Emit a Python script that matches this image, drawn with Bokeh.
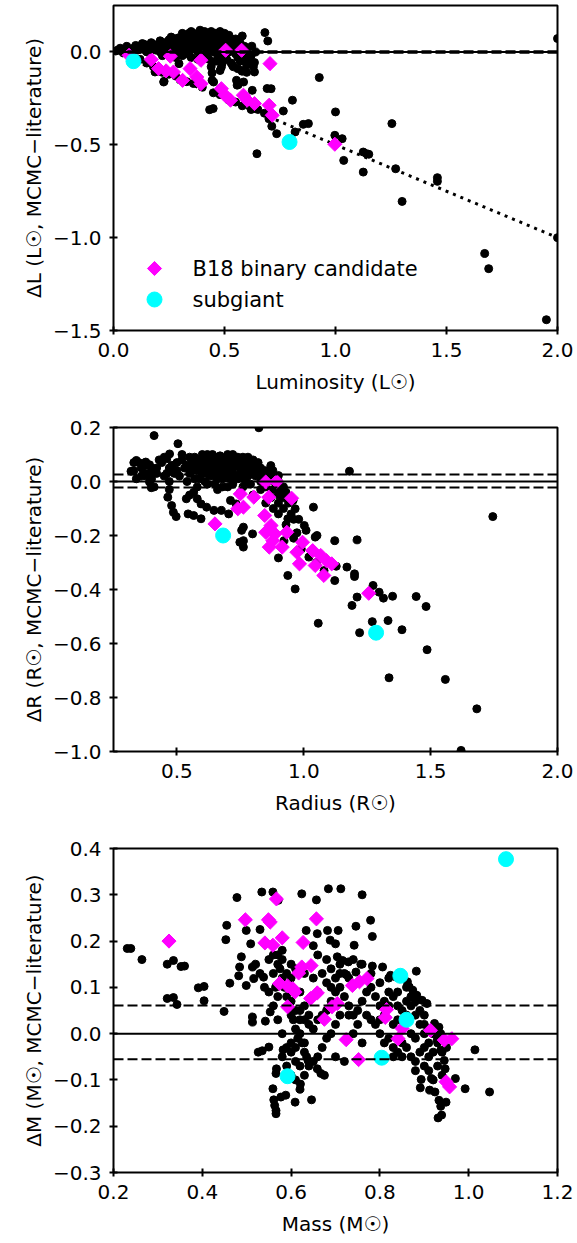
import math
from bokeh.plotting import figure
from bokeh.layouts import column
from bokeh.models import (Range1d, FixedTicker, CustomJSTickFormatter, Span, Label)
from bokeh.embed import file_html
from bokeh.resources import INLINE

FONT = "DejaVu Sans"

# ---------------- Panel 1: luminosity ----------------
lum_stars = [
    (2.0, 0.072), (2.0, -1.0), (1.95, -1.442), (1.672, -1.085), (1.69, -1.167),
    (1.30, -0.805), (1.254, -0.386), (1.271, -0.629), (1.459, -0.677), (1.459, -0.697),
    (1.125, -0.647), (1.125, -0.539), (1.14, -0.548), (1.15, -0.551), (1.037, -0.584),
    (1.03, -0.467), (0.997, -0.449), (1.0, -0.323), (0.927, -0.138), (0.878, -0.386),
    (0.855, -0.39), (0.818, -0.431), (0.806, -0.26), (0.765, -0.318), (0.735, -0.44),
    (0.713, -0.4), (0.71, -0.198), (0.682, 0.104), (0.695, 0.059), (0.623, 0.031),
    (0.635, -0.057), (0.635, -0.108), (0.625, -0.207), (0.626, -0.305), (0.646, -0.548),
    (0.58, 0.086), (0.579, -0.104), (0.562, -0.176), (0.554, -0.153), (0.444, -0.153),
    (0.433, -0.311), (0.449, -0.305), (0.228, -0.158), (0.187, -0.108), (0.295, -0.063),
    (0.536, -0.072), (0.486, -0.081), (0.47, -0.036), (0.519, 0.009), (0.692, -0.197),
    (0.586, -0.162), (0.557, -0.179), (0.444, -0.113), (0.451, -0.162), (0.226, -0.162),
    (0.01, 0.005), (0.02, 0.01), (0.03, 0.02), (0.04, 0.0), (0.05, 0.01), (0.06, 0.03),
    (0.07, 0.015), (0.08, 0.0), (0.09, 0.02), (0.10, 0.035), (0.11, 0.01), (0.12, 0.03),
    (0.13, 0.045), (0.14, 0.02), (0.15, 0.0), (0.16, 0.035), (0.17, 0.05), (0.18, 0.025),
    (0.19, 0.01), (0.20, 0.04), (0.21, 0.06), (0.22, 0.03), (0.23, 0.05), (0.24, 0.02),
    (0.25, 0.065), (0.26, 0.04), (0.27, 0.01), (0.28, 0.055), (0.29, 0.075), (0.30, 0.03),
    (0.31, 0.1), (0.32, 0.06), (0.33, 0.085), (0.34, 0.04), (0.35, 0.11), (0.35, 0.02),
    (0.36, 0.07), (0.37, 0.095), (0.38, 0.05), (0.39, 0.117), (0.40, 0.03), (0.41, 0.08),
    (0.42, 0.06), (0.43, 0.1), (0.44, 0.11), (0.45, 0.04), (0.46, 0.07), (0.47, 0.09),
    (0.48, 0.02), (0.49, 0.05), (0.50, 0.075), (0.51, 0.0), (0.52, 0.06), (0.53, 0.03),
    (0.54, 0.045), (0.55, -0.01), (0.56, 0.02), (0.57, 0.05), (0.58, 0.0), (0.59, -0.03),
    (0.60, 0.01), (0.62, -0.02), (0.64, 0.0), (0.22, -0.02), (0.28, -0.03), (0.33, -0.01),
    (0.38, -0.04), (0.42, -0.02), (0.46, -0.05), (0.50, -0.03), (0.53, -0.06), (0.57, -0.05),
    (0.60, -0.07), (0.44, -0.08), (0.48, -0.1), (0.12, -0.04), (0.15, -0.06), (0.18, -0.08),
    (0.20, -0.1), (0.22, -0.11), (0.25, -0.12), (0.28, -0.13), (0.30, -0.15), (0.33, -0.16),
    (0.36, -0.17), (0.40, -0.19), (0.45, -0.22), (0.48, -0.23), (0.52, -0.26), (0.55, -0.27),
    (0.58, -0.29), (0.62, -0.31), (0.65, -0.31), (0.68, -0.33), (0.70, -0.36),
    (0.26, 0.08), (0.27, 0.05), (0.28, 0.02), (0.29, 0.04), (0.30, 0.07), (0.30, 0.0),
    (0.31, 0.05), (0.32, 0.09), (0.32, 0.02), (0.33, 0.06), (0.34, 0.1), (0.34, 0.0),
    (0.35, 0.07), (0.36, 0.04), (0.36, 0.1), (0.37, 0.02), (0.37, 0.06), (0.38, 0.08),
    (0.38, 0.0), (0.39, 0.05), (0.40, 0.09), (0.40, 0.06), (0.41, 0.03), (0.41, 0.11),
    (0.42, 0.0), (0.42, 0.09), (0.43, 0.05), (0.43, 0.02), (0.44, 0.07), (0.45, 0.1),
    (0.45, 0.0), (0.46, 0.04), (0.47, 0.06), (0.47, -0.02), (0.48, 0.08), (0.49, 0.02),
    (0.50, 0.05), (0.50, 0.1), (0.51, 0.03), (0.52, 0.0), (0.53, 0.07), (0.54, 0.02),
    (0.55, 0.05), (0.56, -0.03), (0.57, 0.01), (0.58, -0.02), (0.59, 0.03), (0.60, -0.04),
    (0.61, -0.05), (0.62, -0.06), (0.55, 0.07), (0.52, 0.09), (0.48, 0.11), (0.46, 0.1),
    (0.20, 0.02), (0.21, 0.0), (0.23, 0.03), (0.24, 0.05), (0.18, 0.04), (0.16, 0.015),
    (0.14, 0.04), (0.12, 0.015), (0.10, 0.02), (0.25, 0.0), (0.27, 0.03), (0.29, 0.01),
    (0.31, -0.02), (0.35, -0.03), (0.39, -0.02), (0.43, -0.04), (0.49, -0.06), (0.51, -0.04),
    (0.54, -0.08), (0.56, -0.09), (0.58, -0.1), (0.63, -0.08), (0.60, -0.11),
]
lum_binaries = [
    (0.07, -0.018), (0.17, -0.041), (0.256, -0.023), (0.394, -0.045), (0.505, 0.009),
    (0.577, 0.009), (0.705, -0.063), (0.203, -0.09), (0.237, -0.102), (0.27, -0.108),
    (0.311, -0.153), (0.345, -0.09), (0.375, -0.135), (0.394, -0.171), (0.486, -0.198),
    (0.502, -0.233), (0.527, -0.26), (0.585, -0.233), (0.602, -0.26), (0.635, -0.278),
    (0.701, -0.287), (0.715, -0.341), (0.997, -0.497),
]
lum_subgiants = [(0.09, -0.05), (0.793, -0.485)]
lum_trend_x = [0.0, 2.0]
lum_trend_y = [0.0, -1.0]
lum_xticks = [0.0, 0.5, 1.0, 1.5, 2.0]
lum_yticks = [-1.5, -1.0, -0.5, 0.0]
lum_hlines = [0.0]
lum_dashed = [0.004, -0.004]
legend_labels = ["B18 binary candidate", "subgiant"]

# ---------------- Panel 2: radius ----------------
rad_stars = [
    (0.41, 0.17), (0.504, 0.14), (0.823, 0.199), (1.18, 0.038), (1.745, -0.13),
    (1.62, -0.996), (1.682, -0.842), (1.558, -0.733), (1.336, -0.727), (1.486, -0.623),
    (1.482, -0.463), (1.443, -0.426), (1.35, -0.425), (1.314, -0.432), (1.297, -0.41),
    (1.273, -0.385), (1.27, -0.519), (1.332, -0.515), (1.387, -0.549), (1.22, -0.56),
    (1.21, -0.428), (1.19, -0.459), (1.21, -0.216), (1.122, -0.219), (1.122, -0.367),
    (1.128, -0.314), (1.17, -0.317), (1.2, -0.342), (1.2, -0.352), (1.057, -0.525),
    (1.038, -0.095), (1.045, -0.206), (1.052, -0.2), (1.009, -0.181), (1.002, -0.163),
    (0.973, -0.19), (0.966, -0.398), (0.937, -0.348), (0.9, -0.283), (0.922, -0.219),
    (0.937, -0.138), (0.966, -0.101), (0.958, -0.07), (0.922, -0.046), (0.878, 0.041),
    (0.87, 0.059), (0.9, 0.022), (0.798, -0.194), (0.762, -0.219), (0.762, -0.243),
    (0.748, -0.225), (0.755, -0.181), (0.762, -0.169), (0.733, -0.083), (0.711, -0.07),
    (0.704, -0.12), (0.675, -0.107), (0.646, -0.107), (0.617, -0.095), (0.595, -0.138),
    (0.566, -0.126), (0.544, -0.12), (0.497, -0.13), (0.486, -0.114), (0.479, -0.089),
    (0.464, -0.058), (0.537, -0.064), (0.566, -0.04), (0.58, -0.064), (0.595, -0.083),
    (0.471, 0.102), (0.46, 0.084), (0.34, 0.078), (0.319, 0.038), (0.377, 0.072),
    (0.392, 0.062), (0.399, -0.023), (0.392, -0.002), (0.37, 0.031),
    (0.38, 0.06), (0.40, 0.01), (0.42, 0.05), (0.44, 0.07), (0.46, 0.03), (0.47, 0.0),
    (0.48, 0.06), (0.50, 0.04), (0.51, 0.02), (0.52, 0.08), (0.53, 0.05), (0.54, 0.0),
    (0.55, 0.03), (0.56, 0.07), (0.57, 0.09), (0.58, 0.04), (0.59, 0.01), (0.60, 0.06),
    (0.61, 0.08), (0.62, 0.03), (0.63, 0.05), (0.64, 0.09), (0.65, 0.02), (0.65, 0.06),
    (0.66, 0.04), (0.67, 0.08), (0.68, 0.01), (0.68, 0.05), (0.69, 0.07), (0.70, 0.03),
    (0.70, 0.1), (0.71, 0.05), (0.72, 0.08), (0.73, 0.02), (0.73, 0.06), (0.74, 0.09),
    (0.75, 0.04), (0.76, 0.07), (0.77, 0.0), (0.77, 0.05), (0.78, 0.08), (0.79, 0.03),
    (0.80, 0.06), (0.81, 0.02), (0.82, 0.05), (0.83, 0.0), (0.84, 0.04), (0.85, -0.02),
    (0.86, 0.02), (0.88, -0.03), (0.90, -0.05), (0.92, -0.06), (0.94, -0.08), (0.62, -0.01),
    (0.66, -0.03), (0.70, -0.02), (0.58, -0.02), (0.55, -0.05), (0.75, -0.04), (0.80, -0.05),
    (0.85, -0.08), (0.88, -0.1), (0.6, 0.1), (0.64, 0.1), (0.67, 0.095), (0.72, 0.1),
    (0.78, 0.09), (0.52, 0.1), (0.45, 0.09), (0.35, 0.07), (0.33, 0.04), (0.36, 0.02),
    (0.39, 0.03), (0.41, -0.02), (0.47, -0.03),
    (0.54, 0.06), (0.55, 0.09), (0.56, 0.04), (0.57, 0.01), (0.57, 0.06), (0.58, 0.08),
    (0.59, 0.05), (0.60, 0.03), (0.60, 0.08), (0.61, 0.0), (0.61, 0.05), (0.62, 0.07),
    (0.62, 0.1), (0.63, 0.02), (0.63, 0.08), (0.64, 0.04), (0.64, 0.06), (0.65, 0.09),
    (0.66, 0.01), (0.66, 0.07), (0.67, 0.03), (0.67, 0.05), (0.68, 0.08), (0.69, 0.02),
    (0.69, 0.04), (0.70, 0.06), (0.71, 0.08), (0.71, 0.01), (0.72, 0.03), (0.72, 0.05),
    (0.73, 0.09), (0.74, 0.01), (0.74, 0.06), (0.75, 0.08), (0.75, 0.02), (0.76, 0.04),
    (0.76, 0.09), (0.77, 0.07), (0.78, 0.02), (0.78, 0.05), (0.79, 0.07), (0.80, 0.04),
    (0.80, 0.08), (0.81, 0.05), (0.82, 0.03), (0.82, 0.07), (0.83, 0.05), (0.84, 0.02),
    (0.85, 0.04), (0.86, 0.0), (0.87, 0.03), (0.88, 0.01), (0.89, -0.02), (0.90, 0.0),
    (0.91, -0.03), (0.92, -0.02), (0.93, -0.04), (0.65, -0.01), (0.68, -0.02), (0.72, -0.01),
    (0.76, -0.02), (0.79, -0.01), (0.83, -0.03), (0.87, -0.06), (0.90, -0.08), (0.92, -0.1),
    (0.95, -0.12), (0.96, -0.14), (0.50, 0.07), (0.49, 0.03), (0.47, 0.05), (0.45, 0.02),
    (0.43, 0.08), (0.42, 0.03), (0.40, 0.05), (0.38, 0.02), (0.36, 0.05), (0.34, 0.01),
    (0.33, 0.07), (0.93, -0.16), (0.96, -0.21), (0.99, -0.25), (1.02, -0.28), (1.05, -0.3),
    (1.08, -0.33), (0.90, -0.12), (0.98, -0.14),
]
rad_binaries = [
    (0.65, -0.157), (0.75, -0.046), (0.74, -0.101), (0.762, -0.095), (0.803, -0.058),
    (0.85, -0.002), (0.893, 0.0), (0.862, -0.058), (0.952, -0.062), (0.846, -0.126),
    (0.871, -0.163), (0.85, -0.188), (0.886, -0.194), (0.864, -0.243), (0.915, -0.243),
    (0.933, -0.188), (0.973, -0.262), (0.995, -0.225), (0.983, -0.305), (1.035, -0.256),
    (1.045, -0.311), (1.067, -0.274), (1.089, -0.293), (1.079, -0.348), (1.11, -0.305),
    (1.256, -0.414), (0.878, -0.219),
]
rad_subgiants = [(0.682, -0.2), (1.285, -0.56)]
rad_xticks = [0.5, 1.0, 1.5, 2.0]
rad_yticks = [-1.0, -0.8, -0.6, -0.4, -0.2, 0.0, 0.2]
rad_hlines = [0.0]
rad_dashed = [0.026, -0.022]

# ---------------- Panel 3: mass ----------------
mass_stars = [
    (0.231, 0.184), (0.239, 0.184), (0.264, 0.16), (0.321, 0.15), (0.335, 0.158),
    (0.352, 0.145), (0.36, 0.146), (0.321, 0.076), (0.335, 0.078), (0.343, 0.063),
    (0.391, 0.099), (0.404, 0.102), (0.404, 0.071), (0.449, 0.048), (0.462, 0.109),
    (0.453, 0.203), (0.455, 0.234), (0.478, 0.294), (0.488, 0.166), (0.484, 0.144),
    (0.482, 0.125), (0.499, 0.104), (0.499, 0.223), (0.509, 0.194), (0.513, 0.144),
    (0.516, 0.119), (0.513, 0.036), (0.513, 0.025), (0.534, 0.306), (0.53, 0.225),
    (0.538, 0.122), (0.542, 0.027), (0.535, -0.037), (0.559, 0.306), (0.55, -0.029),
    (0.553, 0.047), (0.571, 0.288), (0.559, -0.119), (0.561, -0.143), (0.563, -0.155),
    (0.566, -0.166), (0.566, -0.173), (0.567, -0.076), (0.566, -0.086), (0.577, -0.137),
    (0.582, -0.035), (0.588, -0.133), (0.609, -0.148), (0.621, -0.109), (0.646, -0.143),
    (0.638, -0.058), (0.659, -0.076), (0.667, -0.086), (0.675, -0.09), (0.526, -0.04),
    (0.624, 0.302), (0.657, 0.289), (0.684, 0.313), (0.712, 0.313), (0.76, 0.3),
    (0.779, 0.245), (0.783, 0.21), (0.746, 0.232), (0.742, 0.191), (0.682, 0.223),
    (0.706, 0.223), (0.659, 0.216), (0.634, 0.223), (0.688, 0.202), (0.7, 0.194),
    (0.704, 0.166), (0.716, 0.158), (0.729, 0.155), (0.725, 0.127), (0.746, 0.133),
    (0.757, 0.15), (0.783, 0.146), (0.806, 0.144), (0.824, 0.126), (0.837, 0.122),
    (0.882, 0.135), (0.862, 0.112), (0.866, 0.101), (0.874, 0.094), (0.883, 0.083),
    (0.895, 0.072), (0.906, 0.065), (0.9, 0.04), (0.923, 0.022), (0.933, 0.014),
    (0.937, 0.0), (0.929, -0.014), (0.937, -0.036), (0.945, -0.058), (0.947, -0.076),
    (0.916, -0.097), (0.893, -0.099), (0.891, -0.117), (0.912, -0.122), (0.924, -0.126),
    (0.933, -0.144), (0.937, -0.157), (0.949, -0.148), (0.939, -0.176), (0.931, -0.182),
    (0.97, -0.097), (0.992, -0.119), (1.014, -0.035), (1.047, -0.126),
    (0.57, 0.17), (0.575, 0.14), (0.58, 0.12), (0.585, 0.1), (0.59, 0.08), (0.595, 0.06),
    (0.6, 0.04), (0.605, 0.03), (0.61, 0.01), (0.615, -0.01), (0.62, 0.0), (0.625, -0.02),
    (0.63, -0.04), (0.635, -0.05), (0.64, -0.06), (0.62, 0.05), (0.63, 0.03), (0.64, 0.02),
    (0.65, 0.01), (0.66, 0.03), (0.67, 0.04), (0.68, 0.05), (0.69, 0.07), (0.70, 0.09),
    (0.71, 0.1), (0.72, 0.08), (0.73, 0.06), (0.74, 0.04), (0.75, 0.05), (0.76, 0.07),
    (0.77, 0.09), (0.78, 0.1), (0.79, 0.08), (0.8, 0.06), (0.81, 0.07), (0.82, 0.09),
    (0.83, 0.08), (0.84, 0.06), (0.85, 0.05), (0.86, 0.07), (0.87, 0.06), (0.88, 0.04),
    (0.89, 0.02), (0.9, 0.0), (0.91, -0.02), (0.92, -0.04), (0.8, 0.0), (0.81, -0.02),
    (0.82, -0.01), (0.83, -0.03), (0.84, -0.04), (0.85, -0.02), (0.86, -0.03), (0.87, -0.05),
    (0.88, -0.06), (0.89, -0.04), (0.9, -0.07), (0.79, 0.02), (0.78, 0.03), (0.77, 0.04),
    (0.7, 0.02), (0.69, 0.0), (0.68, -0.01), (0.67, -0.03), (0.66, -0.05), (0.65, -0.06),
    (0.64, -0.07), (0.6, -0.04), (0.61, -0.06), (0.62, -0.07), (0.63, -0.09), (0.6, 0.12),
    (0.61, 0.14), (0.63, 0.13), (0.65, 0.12), (0.67, 0.13), (0.69, 0.14), (0.71, 0.13),
    (0.73, 0.12), (0.55, 0.16), (0.56, 0.13), (0.565, 0.1), (0.57, 0.08), (0.55, 0.09),
    (0.54, 0.1), (0.53, 0.13), (0.52, 0.15), (0.56, 0.06), (0.57, 0.03), (0.58, 0.0),
    (0.59, -0.03), (0.7, -0.05), (0.72, -0.06), (0.74, 0.0), (0.76, -0.02), (0.73, 0.04),
    (0.75, 0.02), (0.71, 0.04), (0.86, 0.1), (0.84, 0.09), (0.82, 0.12), (0.8, 0.11),
    (0.78, 0.13), (0.76, 0.15), (0.74, 0.16), (0.65, 0.19), (0.66, 0.17), (0.68, 0.16),
    (0.69, 0.1), (0.71, 0.15), (0.83, 0.02), (0.85, 0.01), (0.87, 0.0), (0.88, -0.01),
    (0.9, -0.03), (0.91, -0.05), (0.93, -0.07), (0.94, -0.09), (0.92, -0.1),
    (0.57, 0.15), (0.58, 0.16), (0.59, 0.13), (0.6, 0.15), (0.58, 0.18), (0.56, 0.17),
    (0.6, 0.07), (0.61, 0.05), (0.62, 0.03), (0.62, 0.09), (0.63, 0.06), (0.64, 0.04),
    (0.66, 0.09), (0.68, 0.11), (0.7, 0.12), (0.72, 0.13), (0.8, 0.03), (0.81, 0.04),
    (0.82, 0.06), (0.84, 0.03), (0.86, 0.04), (0.87, 0.08), (0.88, 0.07), (0.89, 0.05),
    (0.9, 0.02), (0.91, 0.01), (0.92, 0.0), (0.93, -0.02), (0.94, -0.04), (0.95, -0.03),
    (0.83, -0.05), (0.85, -0.05), (0.88, -0.08), (0.91, -0.08), (0.6, -0.02), (0.61, -0.03),
    (0.63, -0.02), (0.58, -0.05), (0.59, -0.07), (0.6, -0.09), (0.61, -0.1), (0.62, -0.12),
]
mass_binaries = [
    (0.325, 0.2), (0.497, 0.246), (0.567, 0.291), (0.549, 0.246), (0.553, 0.241),
    (0.58, 0.207), (0.541, 0.196), (0.559, 0.191), (0.627, 0.197), (0.657, 0.248),
    (0.624, 0.144), (0.645, 0.147), (0.617, 0.131), (0.574, 0.108), (0.592, 0.103),
    (0.604, 0.097), (0.609, 0.09), (0.644, 0.076), (0.659, 0.088), (0.592, 0.058),
    (0.675, 0.031), (0.692, 0.058), (0.704, 0.065), (0.738, 0.104), (0.754, 0.112),
    (0.771, 0.119), (0.724, -0.013), (0.752, -0.056), (0.815, 0.052), (0.812, 0.035),
    (0.85, 0.011), (0.841, -0.011), (0.914, 0.007), (0.945, -0.014), (0.962, -0.011),
    (0.949, -0.104), (0.957, -0.115),
]
mass_subgiants = [(1.084, 0.377), (0.846, 0.125), (0.86, 0.03), (0.804, -0.052),
                  (0.592, -0.092)]
mass_xticks = [0.2, 0.4, 0.6, 0.8, 1.0, 1.2]
mass_yticks = [-0.3, -0.2, -0.1, 0.0, 0.1, 0.2, 0.3, 0.4]
mass_hlines = [0.0]
mass_dashed = [0.061, -0.0555]

# ---------------- layout / style constants ----------------
FIG_W = 577
BORDER_L, BORDER_R = 113, 20
FRAME_W = FIG_W - BORDER_L - BORDER_R
FRAME_H1 = 325
BIN_SIZE = 10        # rotated square -> diamond
SUB_SIZE = 15
STAR_SIZE = 8
# legend: key centre offsets from the frame's top-left corner, in pixels
LEG_KEY_DX = 41
LEG_TEXT_DX = 79
LEG_ROW_DY = [263, 294]


def xs(pts):
    return [p[0] for p in pts]


def ys(pts):
    return [p[1] for p in pts]


def make_fig(h, top, bottom, xr, yr, xt, yt, xlabel, ylabel):
    p = figure(width=FIG_W, height=h, x_range=Range1d(*xr), y_range=Range1d(*yr),
               output_backend="svg", toolbar_location=None,
               min_border_left=BORDER_L, min_border_right=BORDER_R,
               min_border_top=top, min_border_bottom=bottom)
    p.xgrid.visible = False
    p.ygrid.visible = False
    p.outline_line_color = "black"
    p.outline_line_width = 2
    p.outline_line_alpha = 1
    p.background_fill_color = "white"
    p.border_fill_color = "white"
    for ax, ticks in ((p.xaxis[0], xt), (p.yaxis[0], yt)):
        ax.ticker = FixedTicker(ticks=ticks, minor_ticks=[])
        ax.formatter = CustomJSTickFormatter(
            code="return tick.toFixed(1).replace('-', '\u2212');")
        ax.axis_line_color = None
        ax.major_tick_in = 4
        ax.major_tick_out = 4
        ax.major_tick_line_width = 2
        ax.major_tick_line_color = "black"
        ax.minor_tick_line_color = None
        ax.major_label_text_font = FONT
        ax.major_label_text_font_size = "20px"
        ax.major_label_text_color = "black"
        ax.axis_label_text_font = FONT
        ax.axis_label_text_font_size = "20px"
        ax.axis_label_text_font_style = "normal"
        ax.axis_label_text_color = "black"
    p.xaxis.major_label_standoff = 8
    p.yaxis.major_label_standoff = 8
    p.xaxis.axis_label_standoff = 10
    p.yaxis.axis_label_standoff = 4
    p.xaxis.axis_label = xlabel
    p.yaxis.axis_label = ylabel
    return p


def add_lines(p, solid, dashed):
    for v in solid:
        p.add_layout(Span(location=v, dimension="width", line_color="black",
                          line_width=2))
    for v in dashed:
        p.add_layout(Span(location=v, dimension="width", line_color="black",
                          line_width=2, line_dash="10 4"))


def add_points(p, stars, binaries, subgiants):
    p.scatter(xs(stars), ys(stars), marker="circle", size=STAR_SIZE, color="black")
    p.scatter(xs(binaries), ys(binaries), marker="square", size=BIN_SIZE,
              angle=math.pi / 4, color="#ff00ff")
    p.scatter(xs(subgiants), ys(subgiants), marker="circle", size=SUB_SIZE,
              color="#00ffff")


LUM_XR = (0.0, 2.0)
LUM_YR = (-1.5, 0.25)
p1 = make_fig(414, 5, 84, LUM_XR, LUM_YR, lum_xticks, lum_yticks,
              "Luminosity (L\u2609)", "\u0394L (L\u2609, MCMC\u2212literature)")
add_lines(p1, lum_hlines, lum_dashed)
p1.line(lum_trend_x, lum_trend_y, line_color="black", line_width=3,
        line_dash="3 5")
add_points(p1, lum_stars, lum_binaries, lum_subgiants)


# legend (drawn by hand so the key can be a true 45-degree diamond)
def px_to_x(dx):
    return LUM_XR[0] + dx * (LUM_XR[1] - LUM_XR[0]) / FRAME_W


def px_to_y(dy):
    return LUM_YR[1] - dy * (LUM_YR[1] - LUM_YR[0]) / FRAME_H1


key_x = px_to_x(LEG_KEY_DX)
text_x = px_to_x(LEG_TEXT_DX)
row_y = [px_to_y(d) for d in LEG_ROW_DY]
p1.scatter([key_x], [row_y[0]], marker="square", size=BIN_SIZE,
           angle=math.pi / 4, color="#ff00ff")
p1.scatter([key_x], [row_y[1]], marker="circle", size=SUB_SIZE, color="#00ffff")
for lab, yy in zip(legend_labels, row_y):
    p1.add_layout(Label(x=text_x, y=yy, text=lab, text_font=FONT,
                        text_font_size="21px", text_color="black",
                        text_baseline="middle", text_align="left"))

p2 = make_fig(422, 13, 85, (0.25, 2.0), (-1.0, 0.2), rad_xticks, rad_yticks,
              "Radius (R\u2609)", "\u0394R (R\u2609, MCMC\u2212literature)")
add_lines(p2, rad_hlines, rad_dashed)
add_points(p2, rad_stars, rad_binaries, rad_subgiants)

p3 = make_fig(407, 12, 71, (0.2, 1.2), (-0.3, 0.4), mass_xticks, mass_yticks,
              "Mass (M\u2609)", "\u0394M (M\u2609, MCMC\u2212literature)")
add_lines(p3, mass_hlines, mass_dashed)
add_points(p3, mass_stars, mass_binaries, mass_subgiants)

layout = column(p1, p2, p3, spacing=0)
open("out.html", "w").write(file_html(layout, INLINE))
